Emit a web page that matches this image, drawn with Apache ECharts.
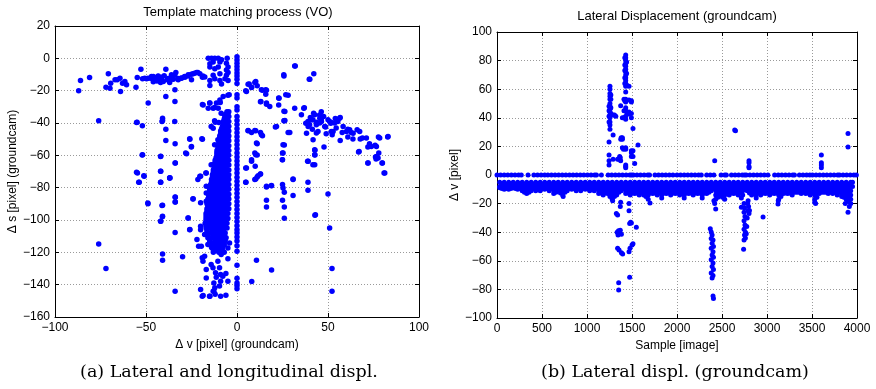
<!DOCTYPE html>
<html><head><meta charset="utf-8">
<script src="https://cdn.jsdelivr.net/npm/echarts@6/dist/echarts.min.js"></script>
<style>html,body{margin:0;padding:0;background:#fff}#c{width:876px;height:389px}</style>
</head><body><div id="c"></div>
<script>
// ---------- Left chart data: [Δv, Δs] ----------
const leftTitle = 'Template matching process (VO)';
const leftXTicks = [-100, -50, 0, 50, 100];
const leftYTicks = [20, 0, -20, -40, -60, -80, -100, -120, -140, -160];
// points with Δv = 0 (vertical line), Δs values
const leftZeroLineS = [1,-1,-3,-5,-7,-9,-11,-13,-15.5,-22.5,-24.5,-30,-32,-36,-38.5,-41,-43.5,-46,-48.5,-51,-53.5,-56,-58.5,-61,-63.5,-66,-68.5,-71,-73.5,-76,-78.5,-81,-83.5,-86,-88.5,-91,-93.5,-96,-98.5,-101,-103.5,-106,-108,-110.5,-113,-116,-119.3,-128,-136,-139,-140.5,-142.5];
// dense cluster, rows of [Δs, [Δv ...]]
const leftClusterRows = [
 [-33,[-5.5,-4.5]], [-36,[-6.5,-5,-4.5]], [-39,[-7.5,-6,-4.5]], [-42,[-8,-6.5,-4.5]],
 [-45,[-9,-7,-5.5,-4.5]], [-48,[-9.5,-7.5,-5.5,-4.5]], [-51,[-10,-8,-6,-4.5]], [-54,[-10,-8.5,-6.5,-4.5]],
 [-57,[-11,-9,-7,-5.5,-4.5]], [-60,[-11,-9,-7,-5,-4.5]], [-63,[-12,-10,-8,-6,-4.5]], [-66,[-12.5,-10.5,-8.5,-6.5,-4.5]],
 [-69,[-13,-11,-9,-7,-5,-4.5]], [-72,[-13.5,-11.5,-9.5,-7.5,-5.5,-4.5]], [-75,[-14,-12,-10,-8,-6,-4.5]], [-78,[-14.5,-12.5,-10.5,-8.5,-6.5,-4.5]],
 [-81,[-15,-13,-11,-9,-7,-5,-4.5]], [-84,[-15.5,-13.5,-11.5,-9.5,-7.5,-5.5,-4.5]], [-87,[-16,-14,-12,-10,-8,-6,-4.5]], [-90,[-16.5,-14.5,-12.5,-10.5,-8.5,-6.5,-4.5]],
 [-93,[-16.5,-14.5,-12.5,-10.5,-8.5,-6.5,-4.5]], [-96,[-17,-15,-13,-11,-9,-7,-5]], [-99,[-17,-15,-13,-11,-9,-7,-5]], [-102,[-17.5,-15.5,-13.5,-11.5,-9.5,-7.5,-5.5]],
 [-105,[-17,-15,-13,-11,-9,-7,-5.5]], [-108,[-16.5,-14.5,-12.5,-10.5,-8.5,-6.5]], [-111,[-16,-14,-12,-10,-8,-6]], [-114,[-15,-13,-11,-9,-7]],
 [-117,[-14,-12,-10,-8]], [-120,[-13,-10,-7]],
 [-34.5,[-6,-5]], [-37.5,[-7,-5.5]], [-40.5,[-7.5,-5.5]], [-43.5,[-8.5,-6.5,-5]], [-46.5,[-9,-7,-5]], [-49.5,[-9.5,-7,-5]],
 [-52.5,[-10,-7.5,-5.5]], [-55.5,[-10.5,-8,-6]], [-58.5,[-11,-8,-6]], [-61.5,[-11.5,-9,-7,-5.5]], [-64.5,[-12,-9.5,-7.5,-5.5]],
 [-67.5,[-12.5,-10,-8,-6]], [-70.5,[-13,-10.5,-8.5,-6.5]], [-73.5,[-13.5,-11,-9,-7,-5]], [-76.5,[-14,-11.5,-9.5,-7.5,-5.5]],
 [-79.5,[-14.5,-12,-10,-8,-6]], [-82.5,[-15,-12.5,-10.5,-8.5,-6.5]], [-85.5,[-15.5,-13,-11,-9,-7,-5]], [-88.5,[-16,-13.5,-11.5,-9.5,-7.5,-5.5]],
 [-91.5,[-16,-13.5,-11.5,-9.5,-7.5,-5.5]], [-94.5,[-16.5,-14,-12,-10,-8,-6]], [-97.5,[-17,-14,-12,-10,-8,-6]], [-100.5,[-17,-14.5,-12.5,-10.5,-8.5,-6.5]],
 [-103.5,[-17,-14,-12,-10,-8,-6.5]], [-106.5,[-16.5,-13.5,-11.5,-9.5,-7.5]], [-109.5,[-16,-13,-11,-9,-7]], [-112.5,[-15,-12,-10,-8,-6.5]],
 [-115.5,[-14,-11,-9,-7]], [-118.5,[-13,-11,-8.5]]
];
// scattered points [Δv, Δs]
const leftScatter = [
 [-87,-20],[-86,-13.7],[-81,-11.9],[-76,-38.6],[-72,-17.9],[-70.7,-9.6],[-69.8,-18.5],[-69.4,-15.4],[-67,-13.3],[-65.8,-13.3],[-64.3,-12.3],[-64,-20.5],[-62.9,-15.4],[-61.6,-14.4],[-60.7,-16.4],[-55.5,-17.9],[-54.8,-11.9],[-52.8,-6.7],[-51.9,-12.7],[-49.7,-12.7],[-48.8,-27.7],[-47.5,-12.3],[-46,-11.3],[-44.6,-12.3],[-43.3,-10.9],[-42.4,-12.9],[-41.4,-11.7],[-40.5,-14.4],[-40,-10.7],[-39.1,-6.7],[-39.1,-23.6],[-38.3,-13.3],[-36.9,-12.3],[-36,-10.2],[-35,-12.9],[-34.1,-19.5],[-34.1,-26.7],[-33.6,-8.8],[-32.3,-13.3],[-30.5,-12.3],[-28.6,-11.7],[-26.8,-10.2],[-25,-13.3],[-24.1,-9.6],[-22.2,-8.8],[-20.4,-9.6],[-19,-11.7],[-18.6,-28.8],[-17.7,-11.5],
 [-50.7,-12.3],[-48.9,-12.3],[-47,-11.3],[-45.2,-12.1],[-43.4,-11.3],[-41.6,-12.1],[-37.9,-12.5],[-36.1,-12.9],[-34.2,-10.5],[-32.4,-12.5],[-30.6,-12.1],[-28.8,-11.3],[-26.9,-10.9],[-25.1,-9.8],[-23.3,-9.2],[-21.5,-8.8],[-18.7,-10.9],[-44,-14],[-42,-15],[-37,-15],[-46,-14.5],
 [-15.8,0],[-14,0],[-12.2,0],[-10.3,0],[-8.5,-0.8],[-14.9,-3.3],[-13.1,-2.3],[-9.4,-2.3],[-14.9,-5.4],[-12.2,-6.5],[-10.3,-5.4],[-5.8,-3.1],[-5.8,-7.2],[-4.9,-5.4],[-5.8,-10.5],[-13.1,-10.5],[-9.4,-9.5],[-14.9,-13.7],[-12.2,-12.7],[-9.4,-13.7],[-6.6,-12.7],[-4.9,-13.7],[-14.9,-16.8],[-8.5,-15.8],[-4.9,-8.8],[-5.4,0],[-7.6,-23.6],[-9.4,-25.7],[-11.3,-27.7],[-13.1,-30.8],[-15.8,-30.8],[-10.3,-30.8],[-14.9,-27.7],[-4.3,-22.6],
 [-15,-27.7],[-12.3,-30.4],[-9.2,-27.3],[-5,-22.8],[-8.7,-34],[-6.8,-35],[-12.3,-38.6],[-10,-39.7],[-19,-28.6],
 [-40.9,-37],[-40.9,-38.4],[-39.1,-43.8],[-39.1,-50.8],[-34,-52.8],[-34,-64.8],[-42,-60.7],[-25.9,-50],[-25,-54.5],[-27.7,-59],[-19,-50],[-51.9,-59.6],[-55.2,-70.5],[-51.2,-72.6],[-42,-69.9],[-36.9,-74],[-13.1,-43.2],[-13.1,-65.8],[-17.1,-70.9],[-20.4,-73],
 [-55.2,-39.7],[-52,-41.7],[-54.9,-39.6],[-41.2,-39],[-34.2,-39],[-26,-49.7],[-19.3,-49.7],[-25.1,-54.9],[-28.2,-58.6],[-52.1,-59.8],[-41.9,-60.6],[-33.9,-64.7],[-14.2,-65.8],[-54.7,-70.9],[-51,-73],[-41.9,-69.9],[-37,-74],[-54,-76.7],[-41.9,-76.7],[-20,-73],[-21.5,-75],[-16.9,-70.9],[-16.9,-79.2],[-48.9,-89.9],[-41.2,-91.1],[-33.9,-85.9],[-33.9,-88.8],[-24.2,-87],[-20,-89.4],[-41,-98],[-26.9,-98.7],[-16.9,-83.3],[-16.9,-88.4],[-14.2,-93.6],[-14.2,-42.1],[-12,-39.6],[-10.5,-50.3],[-12.3,-53.4],[-10.9,-58.6],
 [-53.7,-76.7],[-49,-89.5],[-42,-76.7],[-40.9,-90.9],[-40.9,-97.7],[-42,-100.8],[-40.9,-121],[-40.9,-124.9],[-36.9,-73.8],[-34,-85.8],[-34,-88.8],[-34,-107.8],[-34,-144],[-76,-114.8],[-72,-130],[-29.9,-122.8],[-24.1,-86.8],[-26.8,-98.7],[-25.9,-105.9],
 [-41.9,-100.8],[-26,-106],[-20,-143],[-19.1,-147.1],[-15.1,-147.1],[-12.7,-144],[-12,-146],[-9,-147.1],[-6.1,-146.5],[-5,-137.9],[-9,-137.9],[-16.9,-135.8],[-11.8,-132.7],[-6.1,-133.1],[-9.6,-129.6],[-13.2,-129.6],[-16.9,-130.6],[-18.7,-125.5],[-19.1,-123.4],[-17.8,-122.4],[-14.2,-127.6],[-10.5,-125.5],[-5,-123.9],[-8.7,-121.4],[-7.8,-119.3],[-16,-115.2],[-19.6,-116.2],[-21.1,-116.2],[-22,-112.1],[-20,-106],[-20,-103.9],[-17.8,-109],[-5,-117.3],[-4.1,-114.2],[-11.4,-135.4],[-9,-133.7],[-12.7,-138.9],[-9.6,-140.9],[-7.8,-134.8],[-13.1,-144],[-12.2,-141.9],[-18.6,-146.7],[-14.9,-147.2],
 [5.2,-20.5],[6.7,-15.8],[8,-17.9],[10.3,-14.4],[13.4,-19.5],[15.8,-19.5],[13.1,-26.7],[16.2,-27.7],[18,-29.8],[23.1,-24.7],[25.7,-10.2],[26.3,-32.9],[26.3,-38.4],[26.8,-22.6],[28.1,-45.8],[31.7,-4.7],[31.7,-30.8],[36.7,-30.8],[35.4,-34.9],[40,-12.9],[42.2,-9.6],
 [6.1,-16],[8,-18],[9.8,-15],[11.1,-17],[4.8,-20.1],[14,-19.7],[16.2,-19.7],[15.8,-22.2],[12.9,-26.9],[16.2,-28.4],[22.9,-24.6],[28.1,-22.8],[22.9,-28.8],[25.8,-32.7],[37,-30.6],[25.8,-38.6],[25.8,-10.9],[39.7,-12.9],[32,-4.7],
 [46.3,-33.1],[40.3,-36.6],[42.1,-33.9],[45.4,-35.1],[47.6,-36],[54,-37.2],[56.7,-36.6],[51.8,-39.7],
 [37.8,-40.1],[39.1,-42.1],[40.9,-38],[42.7,-34.9],[43.6,-41.1],[45.5,-37],[46.4,-39.1],[48.2,-42.1],[50,-38],[51.5,-40.1],[52.8,-45.2],[54.6,-38],[56.4,-37],[58.3,-42.1],[60.1,-45.2],[61.9,-44.2],[63.8,-46.3],[66,-44.2],[67.4,-45.2],[68.9,-49.3],[71.1,-49.3],[73.8,-54.5],[76.6,-54.5],[78.4,-49.3],[83,-48.3],[67.1,-57.6],[72,-64.8],[76.6,-60.7],[77.5,-61.7],[79.9,-64.8],[81.2,-70.9],[41.8,-50.4],[42.7,-56.5],[42.7,-59.6],[42.7,-65.8],[39.1,-63.7],[38.2,-46.3],
 [39,-39],[39.9,-41.1],[41.7,-38],[43.6,-39.6],[45.4,-40],[44.5,-45.2],[43.6,-46.2],[41.4,-43.8],[46.3,-38],[48.7,-42.5],[49,-46.6],[51.8,-45.2],[52.3,-47.3],[53.6,-40],[54.5,-43.1],[55.4,-39],[50.9,-39],[57.8,-45.8],[60.9,-43.8],[62.7,-45.8],[60.9,-48.7],[63.7,-49.9],[56.7,-50.8],[67.7,-49.9],[72.8,-52.8],[71.9,-54.9],[75.9,-53.8],[77.7,-48.7],[82.8,-48.7],[66.8,-58],[77.9,-58.6],[76.1,-61],[76.4,-62.3],[71.9,-64.7],[79.7,-64.7],[80.8,-70.9],
 [6.1,-44.8],[10.3,-44.8],[13.4,-47.3],[10.7,-52.4],[9.8,-58.6],[10.3,-59.6],[8,-63.7],[21.7,-42.1],[25.3,-53.5],[25.3,-58.6],[24.9,-62.7],
 [6.1,-44.6],[8,-45.8],[9.8,-44.6],[12.9,-45.8],[14,-47.9],[11.1,-52.8],[21.1,-42.5],[26,-38.6],[29,-45.8],[11.1,-59.8],[8,-62.7],[10,-66.8],[4.8,-67.8],[12.9,-71.5],[11.1,-73.4],[9.8,-75],[4.8,-76.7],[16.2,-79.6],[18.9,-78.7],[26,-53.6],[25,-58.6],[25,-62.7],[30.8,-75],[39,-76.7],[25,-78.1],[25.3,-80.2],[26,-82.9],[30.8,-84.9],[39,-81.6],[16.2,-87.8],[16.2,-91.9],[25,-87.8],[26,-91.9],[26,-98.9],[42.8,-97],[50,-83.9],[38.8,-63.7],[41.7,-65.8],[42.8,-56.9],[42.8,-59.8],[47.8,-54.9],
 [5.2,-67.9],[4.9,-76.7],[10.3,-74.7],[11.6,-72.6],[12.9,-71.6],[10.7,-124.9],[16.2,-79.2],[19,-78.8],[30.8,-74.7],[43.1,-96.7],[50.9,-104.9],[52.2,-130],[52.2,-144],[19,-131],[8.1,-138]
];

// ---------- Right chart data: [sample, Δv] ----------
const rightTitle = 'Lateral Displacement (groundcam)';
const rightXTicks = [0, 500, 1000, 1500, 2000, 2500, 3000, 3500, 4000];
const rightYTicks = [100, 80, 60, 40, 20, 0, -20, -40, -60, -80, -100];
// samples where Δv = 0
const rightZeroSamples = [0,40,80,120,160,200,240,270,345,410,450,490,530,565,605,645,685,725,765,805,845,885,925,965,1005,1045,1085,1105,1160,1235,1275,1315,1355,1395,1435,1475,1495,1515,1555,1595,1635,1675,1695,1755,1795,1835,1875,1915,1955,2000,2040,2080,2120,2160,2200,2240,2270,2330,2370,2410,2490,2530,2548,2605,2645,2685,2725,2750,2770,2810,2850,2890,2930,2970,3010,3085,3125,3165,3205,3245,3285,3305,3360,3400,3440,3475,3505,3545,3585,3625,3665,3705,3745,3785,3805,3845,3885,3925,3965,3993];
// band below zero: [sample, Δv, Δv, ...]
const rightBandCols = [
 [30,-5,-8,-9],[80,-5,-8,-10],[130,-5,-8,-10],[180,-5,-8,-9],[230,-5,-8,-10],[280,-5,-8,-11],[330,-5,-8,-11,-13],[380,-5,-8,-11],
 [430,-5,-8,-11],[480,-5,-8,-11],[530,-5,-8,-10],[580,-5,-8,-11],[630,-5,-8,-11,-13],[680,-5,-8,-11],[730,-5,-8,-11,-14],[780,-5,-8,-11],
 [830,-5,-8,-10],[880,-5,-8,-11],[930,-5,-8,-11],[980,-5,-8,-10],[1030,-5,-8,-11],[1080,-5,-8,-11],[1130,-5,-8,-11,-13],[1180,-5,-8,-11,-14],
 [1230,-5,-8,-11,-13],[1280,-5,-8,-11,-14,-17],[1330,-5,-8,-11,-14],[1380,-5,-8,-11],[1430,-5,-8,-11,-13],[1480,-5,-8,-11,-14],[1530,-5,-8,-11,-13],[1580,-5,-8,-11,-14],
 [1630,-5,-8,-11,-14],[1680,-5,-8,-11,-14,-17],[1700,-19.5],[1730,-5,-8,-11,-13],[1780,-5,-8,-11,-14],[1830,-5,-8,-11,-14,-16],[1880,-5,-8,-11,-13],[1930,-5,-8,-11,-14],
 [1980,-5,-8,-11,-13],[2030,-5,-8,-11,-14],[2080,-5,-8,-11,-14,-16],[2130,-5,-8,-11,-13],[2180,-5,-8,-11,-14],[2230,-5,-8,-11,-13],[2280,-5,-8,-11,-14,-16],[2330,-5,-8,-11,-13],
 [2380,-5,-8,-11],[2430,-5,-8,-11,-14,-17],[2480,-5,-8,-11,-14],[2530,-5,-8,-11,-14,-17],[2580,-5,-8,-11,-14],[2630,-5,-8,-11,-13],[2680,-5,-8,-11,-14],[2730,-5,-8,-11,-14],
 [2780,-5,-8,-11],[2830,-5,-8,-11,-14],[2880,-5,-8,-11,-14,-16],[2930,-5,-8,-11,-14],[2980,-5,-8,-11,-13],[3030,-5,-8,-11,-14],[3080,-5,-8,-11,-13],[3130,-5,-8,-11,-14,-17],
 [3180,-5,-8,-11,-13],[3230,-5,-8,-11,-13],[3280,-5,-8,-11,-14],[3330,-5,-8,-11,-12],[3380,-5,-8,-11,-13],[3430,-5,-8,-11,-13],[3480,-5,-8,-11,-14],[3530,-5,-8,-11,-14,-17,-19],
 [3580,-5,-8,-11,-13],[3630,-5,-8,-11,-12],[3680,-5,-8,-11,-13],[3730,-5,-8,-11,-13],[3780,-5,-8,-11,-14],[3830,-5,-8,-11,-14,-15],[3880,-5,-8,-11,-14,-17],[3930,-5,-8,-11,-14,-17,-20],[3950,-5,-8]
];
// in-between band columns: [sample, Δv, Δv, ...]
const rightBandMid = [
 [55,-6.5,-9.5],[105,-6.5,-9.5],[155,-6.5,-9.5],[205,-6.5,-9.5],[255,-6.5,-9.5],[305,-6.5,-9.5,-12],[355,-6.5,-9.5,-12],[405,-6.5,-9.5],
 [455,-6.5,-9.5],[505,-6.5,-9.5],[555,-6.5,-9.5],[605,-6.5,-9.5],[655,-6.5,-9.5,-12],[705,-6.5,-9.5,-12.5],[755,-6.5,-9.5,-12],[805,-6.5,-9.5],
 [855,-6.5,-9.5],[905,-6.5,-9.5],[955,-6.5,-9.5],[1005,-6.5,-9.5],[1055,-6.5,-9.5],[1105,-6.5,-9.5],[1155,-6.5,-9.5,-12.5],[1205,-6.5,-9.5,-12.5],
 [1255,-6.5,-9.5,-12.5,-15],[1305,-6.5,-9.5,-12.5,-15],[1355,-6.5,-9.5,-12],[1405,-6.5,-9.5],[1455,-6.5,-9.5,-12.5],[1505,-6.5,-9.5,-12.5],[1555,-6.5,-9.5,-12.5],[1605,-6.5,-9.5,-12.5],
 [1655,-6.5,-9.5,-12.5,-15],[1705,-6.5,-9.5,-12.5],[1755,-6.5,-9.5,-12.5],[1805,-6.5,-9.5,-12.5],[1855,-6.5,-9.5,-12.5],[1905,-6.5,-9.5,-12.5],[1955,-6.5,-9.5,-12.5],[2005,-6.5,-9.5,-12.5],
 [2055,-6.5,-9.5,-12.5],[2105,-6.5,-9.5,-12.5],[2155,-6.5,-9.5,-12.5],[2205,-6.5,-9.5,-12.5],[2255,-6.5,-9.5,-12.5],[2305,-6.5,-9.5,-12.5],[2355,-6.5,-9.5,-12],[2405,-6.5,-9.5],
 [2455,-6.5,-9.5,-12.5,-15.5],[2505,-6.5,-9.5,-12.5,-15.5],[2555,-6.5,-9.5,-12.5],[2605,-6.5,-9.5,-12.5],[2655,-6.5,-9.5,-12.5],[2705,-6.5,-9.5,-12.5],[2755,-6.5,-9.5],[2805,-6.5,-9.5,-12.5],
 [2855,-6.5,-9.5,-12.5],[2905,-6.5,-9.5,-12.5],[2955,-6.5,-9.5,-12.5],[3005,-6.5,-9.5,-12.5],[3055,-6.5,-9.5,-12.5],[3105,-6.5,-9.5,-12.5],[3155,-6.5,-9.5,-12.5,-15],[3205,-6.5,-9.5,-12.5],
 [3255,-6.5,-9.5,-12.5],[3305,-6.5,-9.5,-12],[3355,-6.5,-9.5,-12],[3405,-6.5,-9.5,-12],[3455,-6.5,-9.5,-12.5],[3505,-6.5,-9.5,-12.5],[3555,-6.5,-9.5,-12.5,-15.5],[3605,-6.5,-9.5,-12],
 [3655,-6.5,-9.5,-12],[3705,-6.5,-9.5,-12],[3755,-6.5,-9.5,-12],[3805,-6.5,-9.5,-12],[3855,-6.5,-9.5,-12.5,-15.5],[3905,-6.5,-9.5,-12.5,-15.5,-18.5]
];
// spikes and isolated points [sample, Δv]
const rightSpikes = [
 [1255,62],[1255,60],[1255,57],[1255,55],[1255,53],[1255,50],[1255,48],[1255,46],[1255,44],[1255,42],[1255,40],[1255,37],[1255,35],[1255,32],
 [1265,56],[1265,53],[1265,47],[1265,43],[1245,48],[1245,45],[1245,41],[1245,37],[1245,23],[1245,14],[1245,10],[1245,7],[1290,42],[1290,28],[1290,11],[1305,42],[1320,41],
 [1430,84],[1430,82],[1430,80],[1430,78],[1430,76],[1430,74],[1430,72],[1430,70],[1430,68],[1430,66],[1430,64],[1430,62],[1430,58],[1430,53],[1430,51],[1430,47],[1430,45],[1430,41],[1430,39],[1430,19],[1430,18],[1430,7],[1430,6],[1430,5],
 [1420,82],[1420,77],[1420,73],[1420,68],[1420,64],[1420,52],[1420,45],[1420,40],[1440,79],[1440,71],[1440,63],[1440,44],
 [1393,40],[1393,26],[1393,25],[1393,19],[1380,26],[1375,25],[1411,53],[1411,45],[1411,40],[1405,18],[1363,13],[1374,10],[1340,11],[1356,11],[1370,12],[1374,48.5],
 [1467,62],[1467,52.5],[1467,44],[1467,42.6],[1493,52],[1493,51],[1493,43],[1493,40],[1493,17],[1493,15.5],[1493,13],[1511,32.5],[1511,17],[1511,13],[1530,8],[1567,21],
 [2419,10],[2641,31.5],[2650,31],[2800,10],[2800,8.5],[2800,6],[2800,5],[3604,14],[3604,8.5],[3604,7],[3604,5],[3900,29],[3900,19.5],
 [1280,-14.5],[1285,-18],[1326,-27],[1335,-40],[1350,-39],[1360,-41],[1370,-38.6],[1382,-41.4],[1340,-51.3],[1356,-52.4],[1382,-54.3],[1396,-55.2],[1352,-75.4],[1352,-80.5],[1374,-19],[1370,-22],[1340,-28],[1345,-42],
 [1467,-25],[1467,-20],[1474,-34],[1485,-33],[1493,-33.6],[1467,-53.6],[1478,-51.3],[1500,-49],[1511,-48],[1474,-71.5],[1548,-36.5],
 [2370,-37.5],[2380,-39.8],[2390,-42],[2380,-44.4],[2400,-45.5],[2390,-47.8],[2405,-50],[2380,-51.3],[2400,-53.6],[2390,-55.9],[2405,-57.5],[2380,-59.3],[2400,-61.6],[2390,-63.9],[2405,-66],[2380,-68.5],[2400,-70.3],[2390,-72],[2400,-84.6],[2405,-86.4],[2419,-20],[2430,-23.7],[2410,-18],
 [2745,-20],[2750,-23],[2745,-26],[2755,-29],[2745,-32],[2755,-35],[2745,-38],[2760,-40],[2750,-42],[2760,-44],[2745,-45.5],[2770,-41],[2775,-36],[2780,-30],[2790,-25],[2785,-20],[2795,-22],[2800,-27],[2740,-52],[2715,-16],[2715,-22.5],[2790,-18],[2805,-24.8],
 [2956,-29.4],[3122,-20.2],[3125,-18],[3900,-26],[3870,-20],[3915,-22],[3540,-20],[735,-15]
];

// ---------- build series data from the arrays ----------
const leftData = [];
leftZeroLineS.forEach(s => leftData.push([0, s]));
leftClusterRows.forEach(r => r[1].forEach(v => leftData.push([v, r[0]])));
leftScatter.forEach(p => leftData.push(p));
const rightData = [];
rightZeroSamples.forEach(x => rightData.push([x, 0]));
rightBandCols.forEach(c => c.slice(1).forEach(v => rightData.push([c[0], v])));
rightBandMid.forEach(c => c.slice(1).forEach(v => rightData.push([c[0], v])));
rightSpikes.forEach(p => rightData.push(p));

const FONT = '"Liberation Sans", Arial, Helvetica, sans-serif';
const SERIF = '"DejaVu Serif", "Liberation Serif", serif';
const minus = v => String(v).replace('-', '\u2212');
const tickLen = 4;
function mainX(grid, arr, name) {
  return { gridIndex: grid, type: 'value', position: 'bottom', min: arr[0], max: arr[arr.length-1], interval: arr[1]-arr[0],
    axisLine: { show: true, onZero: false, lineStyle: { color: '#000', width: 1 } },
    axisTick: { show: true, inside: true, length: tickLen, lineStyle: { color: '#000' } },
    axisLabel: { formatter: minus, color: '#000', fontSize: 12, fontFamily: FONT, margin: 5 },
    splitLine: { show: true, lineStyle: { color: '#9a9a9a', type: [1, 2], width: 1 } },
    name: name, nameLocation: 'middle', nameGap: 19, nameTextStyle: { color: '#000', fontSize: 12, fontFamily: FONT } };
}
function mainY(grid, arr, name, gap) {
  const lo = arr[arr.length-1], hi = arr[0];
  return { gridIndex: grid, type: 'value', position: 'left', min: lo, max: hi, interval: arr[0]-arr[1],
    axisLine: { show: true, onZero: false, lineStyle: { color: '#000', width: 1 } },
    axisTick: { show: true, inside: true, length: tickLen, lineStyle: { color: '#000' } },
    axisLabel: { formatter: minus, color: '#000', fontSize: 12, fontFamily: FONT, margin: 5 },
    splitLine: { show: true, lineStyle: { color: '#9a9a9a', type: [1, 2], width: 1 } },
    name: name, nameLocation: 'middle', nameGap: gap, nameRotate: 90, nameTextStyle: { color: '#000', fontSize: 12, fontFamily: FONT } };
}
function sideX(grid, arr) {
  return { gridIndex: grid, type: 'value', position: 'top', min: arr[0], max: arr[arr.length-1], interval: arr[1]-arr[0],
    axisLine: { show: true, onZero: false, lineStyle: { color: '#000' } },
    axisTick: { show: true, inside: true, length: tickLen, lineStyle: { color: '#000' } },
    axisLabel: { show: false }, splitLine: { show: false } };
}
function sideY(grid, arr) {
  return { gridIndex: grid, type: 'value', position: 'right', min: arr[arr.length-1], max: arr[0], interval: arr[0]-arr[1],
    axisLine: { show: true, onZero: false, lineStyle: { color: '#000' } },
    axisTick: { show: true, inside: true, length: tickLen, lineStyle: { color: '#000' } },
    axisLabel: { show: false }, splitLine: { show: false } };
}

const chart = echarts.init(document.getElementById('c'), null, { renderer: 'canvas' });
chart.setOption({
  animation: false,
  backgroundColor: '#fff',
  grid: [
    { left: 55, top: 26, width: 364, height: 291 },
    { left: 497, top: 32, width: 360, height: 286 }
  ],
  xAxis: [ mainX(0, leftXTicks, 'Δ v [pixel] (groundcam)'), sideX(0, leftXTicks),
           mainX(1, rightXTicks, 'Sample [image]'), sideX(1, rightXTicks) ],
  yAxis: [ mainY(0, leftYTicks, 'Δ s [pixel] (groundcam)', 34), sideY(0, leftYTicks),
           mainY(1, rightYTicks, 'Δ v [pixel]', 35), sideY(1, rightYTicks) ],
  series: [
    { type: 'scatter', xAxisIndex: 0, yAxisIndex: 0, data: leftData, symbolSize: 5.5, itemStyle: { color: '#0000ff', opacity: 1 }, silent: true },
    { type: 'scatter', xAxisIndex: 2, yAxisIndex: 2, data: rightData, symbolSize: 5, itemStyle: { color: '#0000ff', opacity: 1 }, silent: true }
  ],
  graphic: [
    { type: 'text', x: 238, y: 12, style: { text: leftTitle, font: '13px ' + FONT, fill: '#000', align: 'center', verticalAlign: 'middle', textAlign: 'center', textVerticalAlign: 'middle' } },
    { type: 'text', x: 677, y: 16, style: { text: rightTitle, font: '13px ' + FONT, fill: '#000', align: 'center', verticalAlign: 'middle', textAlign: 'center', textVerticalAlign: 'middle' } },
    { type: 'text', x: 229, y: 372, style: { text: '(a) Lateral and longitudinal displ.', font: '17.5px ' + SERIF, fill: '#000', align: 'center', verticalAlign: 'middle', textAlign: 'center', textVerticalAlign: 'middle' } },
    { type: 'text', x: 675, y: 372, style: { text: '(b) Lateral displ. (groundcam)', font: '17.5px ' + SERIF, fill: '#000', align: 'center', verticalAlign: 'middle', textAlign: 'center', textVerticalAlign: 'middle' } }
  ]
});
</script></body></html>
